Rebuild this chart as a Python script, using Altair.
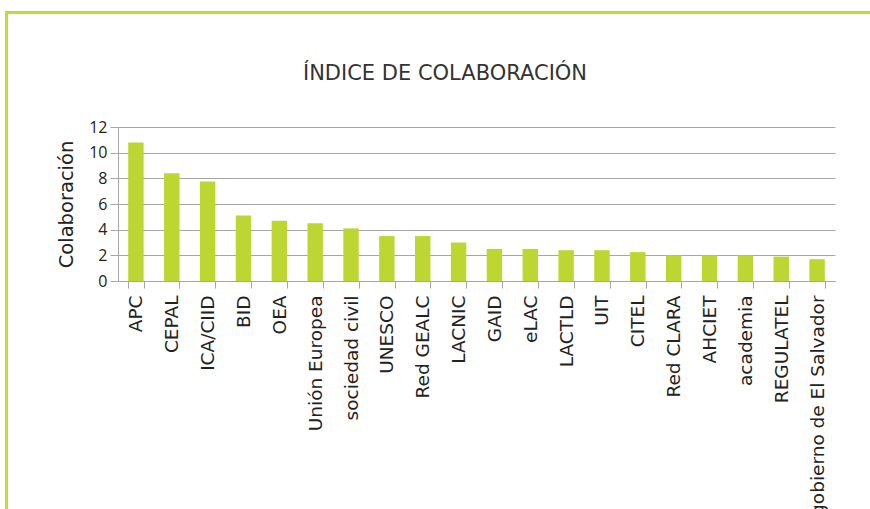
import altair as alt
import pandas as pd

categories = ["APC", "CEPAL", "ICA/CIID", "BID", "OEA", "Unión Europea", "sociedad civil",
              "UNESCO", "Red GEALC", "LACNIC", "GAID", "eLAC", "LACTLD", "UIT", "CITEL",
              "Red CLARA", "AHCIET", "academia", "REGULATEL", "gobierno de El Salvador"]
values = [10.8, 8.4, 7.75, 5.1, 4.7, 4.5, 4.1, 3.5, 3.5, 3.0, 2.5, 2.5, 2.4, 2.4, 2.25,
          2.0, 2.0, 2.0, 1.9, 1.7]
y_ticks = [0, 2, 4, 6, 8, 10, 12]
title_text = ["ÍNDICE DE COLABORACIÓN"]

df = pd.DataFrame({"cat": categories, "val": values})
tdf = pd.DataFrame({"t": title_text})

FONT = "DejaVu Sans"
NUMFONT = "Open Sans"
GREEN = "#bdd631"
FRAME = "#c2d93a"
GRID = "#a6a6a6"
TXT = "#222222"

bars = alt.Chart(df).mark_bar(color=GREEN).encode(
    x=alt.X("cat:N", sort=categories, title=None,
            scale=alt.Scale(paddingInner=0.57, paddingOuter=0.285),
            axis=alt.Axis(labelAngle=-90, labelFontSize=18.5, labelFont=FONT, labelColor=TXT,
                          tickBand="extent", tickSize=7, tickColor=GRID, domainColor=GRID,
                          labelPadding=7, grid=False, labelAlign="right", labelBaseline="middle",
                          labelLimit=500)),
    y=alt.Y("val:Q", title="Colaboración",
            scale=alt.Scale(domain=[0, 12], nice=False),
            axis=alt.Axis(values=y_ticks, labelFontSize=16, labelFont=NUMFONT, labelColor=TXT,
                          titleFont=FONT, titleFontSize=19.5, titleFontWeight="normal",
                          titleColor=TXT, titlePadding=12,
                          tickSize=8, tickColor=GRID, domainColor=GRID, gridColor=GRID,
                          labelPadding=3)),
)

title = alt.Chart(tdf).mark_text(font=FONT, fontSize=21, color="#333333",
                                  align="center", baseline="alphabetic").encode(
    text="t:N", x=alt.value(327), y=alt.value(-47)
)

frame_top = alt.Chart(df).mark_rule(color=FRAME, strokeWidth=3).encode(
    x=alt.value(-112), x2=alt.value(760), y=alt.value(-114.5)
)
frame_left = alt.Chart(df).mark_rule(color=FRAME, strokeWidth=2).encode(
    x=alt.value(-111.7), y=alt.value(-116), y2=alt.value(400)
)

chart = alt.layer(bars, title, frame_top, frame_left).properties(
    width=717, height=154,
    autosize=alt.AutoSizeParams(type="none"),
    padding={"left": 118, "top": 127, "right": 35, "bottom": 228},
).configure_view(stroke=None)

chart.save("out.html", embed_options={"renderer": "svg", "actions": False})
